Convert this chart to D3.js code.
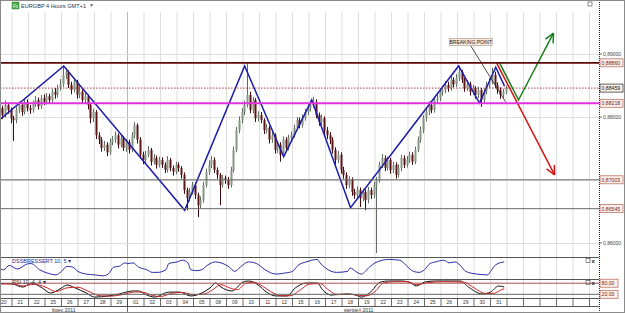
<!DOCTYPE html>
<html>
<head>
<meta charset="utf-8">
<script src="https://cdn.jsdelivr.net/npm/d3@7"></script>
<style>
body { margin: 0; background: #fff; }
svg { display: block; font-family: "Liberation Sans", Arial, sans-serif; }
</style>
</head>
<body>
<svg id="chart" width="625" height="313"></svg>
<script>
// --- data (EURGBP 4H, 20 Jul - 31 Aug 2011) ---
const dayLabels = ["20","21","22","25","26","27","28","29","01","02","03","04","05","08","09","10","11","12","15","16","17","18","19","22","23","24","25","26","29","30","31"]
const months = [["lipiec 2011", 0, 8], ["sierpień 2011", 8, 36]]

const firstOpen = .8815
const closes = [
  .8808,.8814,.8803,.8819,.8811,.8798, .8795,.8811,.8819,.8808,.8824,.8814, .8811,.8821,.8827,.8817,.8830,.8824,
  .8833,.8827,.8840,.8835,.8846,.8852, .8867,.8871,.8851,.8843,.8856,.8835, .8840,.8827,.8833,.8819,.8798,.8808,
  .8771,.8764,.8751,.8756,.8744,.8760, .8764,.8771,.8756,.8767,.8751,.8760, .8748,.8771,.8787,.8764,.8740,.8732,
  .8740,.8748,.8729,.8735,.8724,.8732, .8724,.8716,.8732,.8719,.8713,.8724, .8719,.8708,.8684,.8671,.8681,.8692,
  .8676,.8660,.8668,.8692,.8713,.8724, .8732,.8716,.8708,.8692,.8703,.8700, .8692,.8716,.8748,.8779,.8795,.8808,
  .8819,.8835,.8811,.8827,.8798,.8803, .8795,.8779,.8783,.8764,.8771,.8748, .8756,.8740,.8764,.8751,.8767,.8771,
  .8783,.8795,.8787,.8798,.8808,.8814, .8819,.8824,.8803,.8792,.8798,.8779, .8771,.8764,.8748,.8732,.8740,.8716,
  .8708,.8692,.8700,.8681,.8676,.8684, .8671,.8681,.8668,.8684,.8676,.8692, .8700,.8724,.8735,.8719,.8732,.8716,
  .8724,.8708,.8719,.8735,.8724,.8732, .8740,.8729,.8748,.8764,.8779,.8798, .8808,.8819,.8811,.8827,.8830,.8840,
  .8843,.8851,.8846,.8859,.8852,.8862, .8871,.8859,.8846,.8852,.8840,.8846, .8835,.8843,.8827,.8840,.8851,.8856,
  .8867,.8851,.8843,.8835,.8840,.8846]
const highs = [
  .8822,.8820,.8818,.8826,.8823,.8815, .8802,.8816,.8825,.8822,.8829,.8828, .8819,.8826,.8833,.8831,.8835,.8836,
  .8838,.8837,.8845,.8846,.8851,.8860, .8881,.8878,.8874,.8856,.8862,.8859, .8851,.8844,.8838,.8836,.8822,.8813,
  .8811,.8776,.8768,.8762,.8760,.8766, .8770,.8777,.8774,.8773,.8770,.8765, .8764,.8776,.8792,.8790,.8768,.8745,
  .8746,.8754,.8751,.8741,.8739,.8737, .8736,.8728,.8738,.8735,.8723,.8729, .8728,.8722,.8712,.8688,.8687,.8697,
  .8696,.8680,.8674,.8697,.8718,.8731, .8738,.8736,.8720,.8711,.8708,.8707, .8705,.8721,.8753,.8784,.8801,.8814,
  .8826,.8887,.8840,.8832,.8830,.8809, .8808,.8798,.8789,.8786,.8777,.8774, .8761,.8760,.8769,.8768,.8772,.8777,
  .8788,.8800,.8799,.8804,.8813,.8820, .8826,.8832,.8828,.8807,.8804,.8801, .8784,.8776,.8768,.8752,.8746,.8744,
  .8721,.8712,.8706,.8704,.8686,.8690, .8688,.8686,.8685,.8689,.8688,.8697, .8705,.8729,.8741,.8739,.8737,.8735,
  .8729,.8728,.8725,.8740,.8739,.8738, .8745,.8744,.8753,.8769,.8785,.8803, .8814,.8825,.8824,.8832,.8837,.8846,
  .8849,.8857,.8856,.8865,.8863,.8868, .8881,.8875,.8862,.8858,.8856,.8851, .8849,.8848,.8846,.8845,.8856,.8862,
  .8878,.8872,.8855,.8847,.8845,.8850]
const lows = [
  .8801,.8803,.8797,.8799,.8805,.8790, .8762,.8790,.8806,.8802,.8804,.8809, .8805,.8807,.8816,.8812,.8813,.8819,
  .8820,.8822,.8823,.8829,.8831,.8842, .8848,.8860,.8846,.8836,.8839,.8829, .8830,.8821,.8822,.8812,.8790,.8792,
  .8765,.8757,.8745,.8746,.8738,.8740, .8755,.8759,.8750,.8752,.8746,.8745, .8742,.8744,.8766,.8758,.8734,.8725,
  .8727,.8736,.8723,.8725,.8718,.8720, .8719,.8711,.8712,.8714,.8707,.8709, .8713,.8702,.8678,.8652,.8666,.8677,
  .8670,.8641,.8655,.8664,.8688,.8708, .8719,.8711,.8702,.8660,.8688,.8694, .8686,.8688,.8712,.8744,.8774,.8790,
  .8803,.8815,.8806,.8806,.8792,.8793, .8790,.8773,.8774,.8758,.8759,.8742, .8743,.8729,.8736,.8745,.8747,.8762,
  .8767,.8779,.8782,.8783,.8794,.8803, .8809,.8815,.8798,.8786,.8787,.8773, .8765,.8757,.8742,.8725,.8727,.8710,
  .8702,.8686,.8687,.8675,.8670,.8671, .8657,.8666,.8652,.8663,.8670,.8671, .8584,.8696,.8719,.8714,.8715,.8710,
  .8711,.8702,.8704,.8714,.8719,.8720, .8727,.8724,.8725,.8744,.8759,.8774, .8793,.8803,.8806,.8807,.8822,.8825,
  .8834,.8838,.8840,.8842,.8847,.8848, .8857,.8854,.8840,.8841,.8834,.8835, .8829,.8830,.8816,.8822,.8836,.8846,
  .8852,.8846,.8837,.8829,.8830,.8836]

// horizontal levels drawn on the chart
const levels = [
  { v: .88860, label: "0,88860", kind: "resist" },
  { v: .88459, label: "0,88459", kind: "last" },
  { v: .88218, label: "0,88218", kind: "pivot" },
  { v: .87003, label: "0,87003", kind: "grey" },
  { v: .86545, label: "0,86545", kind: "grey" }]
const priceTicks = [.89, .88, .87, .86]

// zigzag and projections: [bar, price]
const zigzag = [[0,.8790],[24.8,.8881],[68.8,.8652],[90.6,.8881],[104.8,.8737],[115,.8827],[129.1,.8656],[168.4,.8881],[176,.8822],[181.9,.8879],[185.1,.8849]]
const greenPath = [[183.3,.8886],[190.2,.8827],[202.9,.8933]]
const redPath = [[182.2,.8886],[203.3,.8708]]
const breakLeader = [[172.8,.8913],[185.5,.8824]]

// oscillators: [bar, value]
const dss = [[1,50],[3,41],[5,64],[7,50],[8,45],[12,73],[13,73],[16,41],[19,23],[22,14],[24,32],[26,59],[28,55],[30,32],[33,18],[36,14],[39,9],[41,18],[43,55],[45,59],[47,77],[48,73],[50,77],[52,55],[55,41],[57,27],[59,27],[62,41],[63,73],[66,82],[68,91],[70,77],[71,41],[73,36],[75,41],[77,64],[78,73],[80,82],[82,77],[85,55],[87,32],[89,55],[92,82],[95,73],[98,41],[102,18],[105,23],[108,32],[110,64],[113,82],[117,95],[118,77],[120,50],[124,27],[128,32],[129,50],[131,32],[133,18],[136,55],[138,77],[143,95],[147,91],[148,82],[151,41],[152,32],[154,27],[156,41],[158,73],[160,82],[163,91],[165,77],[167,82],[169,64],[171,32],[175,18],[179,14],[180,32],[182,68],[185,82]]
const stochK = [[1,79],[6,76],[10,59],[13,81],[17,54],[20,27],[24,54],[26,70],[29,54],[33,27],[36,5],[41,11],[45,22],[50,38],[52,38],[55,16],[58,5],[63,32],[67,32],[71,11],[75,27],[78,54],[80,81],[82,59],[86,38],[90,86],[92,92],[96,65],[98,38],[102,11],[106,11],[109,54],[113,81],[117,81],[119,43],[122,16],[128,22],[131,16],[133,5],[136,27],[140,86],[143,92],[148,92],[151,81],[153,65],[156,86],[160,92],[169,92],[172,59],[177,22],[180,32],[183,65],[185,59]]
const stochD = [[1,75],[6,77],[10,65],[14,74],[18,60],[22,35],[26,55],[30,58],[34,35],[38,12],[42,10],[46,18],[51,33],[54,30],[57,14],[60,8],[64,25],[68,30],[72,18],[76,22],[79,45],[82,72],[85,55],[88,45],[91,80],[94,85],[97,65],[100,35],[104,12],[107,12],[111,45],[114,75],[118,78],[121,45],[124,20],[129,20],[132,15],[135,12],[138,35],[141,80],[145,88],[150,88],[153,72],[157,82],[163,88],[170,86],[174,55],[178,25],[181,25],[184,45],[185,50]]
const stochLevels = [80, 20]

// --- layout ---
const W = 625, H = 313, axisX = 599
const mainB = 257, o1T = 257, o1B = 279, o2T = 279, o2B = 298, dateB = 306
const nSlots = 36

const svg = d3.select("#chart")

const x = d3.scaleLinear().domain([0, 6 * nSlots]).range([-4.5, -4.5 + 16.5 * nSlots])
const bw = x(1) - x(0)
const y = d3.scaleLinear().domain([.86, .89]).range([243, 54])
const y1 = d3.scaleLinear().domain([0, 100]).range([o1B - 1.5, o1T + 1.5])
const y2 = d3.scaleLinear().domain([0, 100]).range([o2B, o2T + 0.5])

const fmt = v => d3.format(".5f")(v).replace(".", ",")

svg.append("rect").attr("width", W).attr("height", H).attr("fill", "#fff")

const defs = svg.append("defs")
defs.append("clipPath").attr("id", "clipMain").append("rect")
    .attr("x", 0).attr("y", 0).attr("width", axisX).attr("height", mainB)
defs.append("clipPath").attr("id", "clipOsc").append("rect")
    .attr("x", 0).attr("y", o1T).attr("width", axisX).attr("height", o2B - o1T)

// vertical day grid
const grid = svg.append("g")
d3.range(1, nSlots + 1).forEach(k => {
  grid.append("line")
    .attr("x1", x(6 * k)).attr("x2", x(6 * k))
    .attr("y1", 12).attr("y2", o2B)
    .attr("stroke", k === 8 ? "#b8b8b8" : "#dedede").attr("stroke-width", 1)
})
priceTicks.forEach(t => {
  grid.append("line").attr("x1", 0).attr("x2", axisX)
    .attr("y1", Math.round(y(t)) + .5).attr("y2", Math.round(y(t)) + .5)
    .attr("stroke", "#dedede")
})

// candles
const main = svg.append("g").attr("clip-path", "url(#clipMain)")
const bars = closes.map((c, i) => ({ i, o: i ? closes[i - 1] : firstOpen, h: highs[i], l: lows[i], c }))
main.selectAll(".wick").data(bars).enter().append("line")
  .attr("x1", d => Math.round(x(d.i) + bw / 2) + .5)
  .attr("x2", d => Math.round(x(d.i) + bw / 2) + .5)
  .attr("y1", d => y(d.h)).attr("y2", d => y(d.l))
  .attr("stroke", d => d.c >= d.o ? "#5f6d60" : "#3e0c0c").attr("stroke-width", 1)
main.selectAll(".body").data(bars).enter().append("rect")
  .attr("x", d => Math.round(x(d.i) + bw / 2) - .5)
  .attr("width", 2)
  .attr("y", d => y(Math.max(d.o, d.c)))
  .attr("height", d => Math.max(1, Math.abs(y(d.o) - y(d.c))))
  .attr("fill", d => d.c >= d.o ? "#859586" : "#5e1515")

// horizontal levels
const lvStyle = {
  resist: { stroke: "#5a0a0a", w: 1.8, dash: null, box: "#b06050", txt: "#7a1a10" },
  last: { stroke: "#b04040", w: 1, dash: "1.5,1.5", box: "#222", txt: "#111" },
  pivot: { stroke: "#e030e0", w: 1.8, dash: null, box: "#b06050", txt: "#7a1a10" },
  grey: { stroke: "#6a6a6a", w: 1, dash: null, box: "#b06050", txt: "#7a1a10" }
}
levels.forEach(l => {
  const s = lvStyle[l.kind]
  svg.append("line").attr("x1", 0).attr("x2", axisX)
    .attr("y1", y(l.v)).attr("y2", y(l.v))
    .attr("stroke", s.stroke).attr("stroke-width", s.w)
    .attr("stroke-dasharray", s.dash)
})

// zigzag + projections
const line = d3.line().x(d => x(d[0])).y(d => y(d[1]))
main.append("path").attr("d", line(zigzag)).attr("fill", "none")
  .attr("stroke", "#1c1ca8").attr("stroke-width", 1.5)
main.append("path").attr("d", line(breakLeader)).attr("fill", "none")
  .attr("stroke", "#222").attr("stroke-width", .8)

function arrow(pts, color) {
  main.append("path").attr("d", line(pts)).attr("fill", "none")
    .attr("stroke", color).attr("stroke-width", 1.5)
  const a = pts[pts.length - 2], b = pts[pts.length - 1]
  const bx = x(b[0]), by = y(b[1])
  const ang = Math.atan2(by - y(a[1]), bx - x(a[0]))
  const len = 10
  ;[-0.45, 0.45].forEach(da => {
    main.append("line").attr("x1", bx).attr("y1", by)
      .attr("x2", bx - len * Math.cos(ang + da)).attr("y2", by - len * Math.sin(ang + da))
      .attr("stroke", color).attr("stroke-width", 1.5)
  })
}
arrow(redPath, "#d41414")
arrow(greenPath, "#17801a")

// breaking point label
const bpx = x(breakLeader[0][0]), bpy = y(breakLeader[0][1])
svg.append("rect").attr("x", bpx - 21.5).attr("y", bpy - 7.5).attr("width", 43).attr("height", 7)
  .attr("fill", "#fbe6d4").attr("stroke", "#999").attr("stroke-width", .6)
svg.append("text").attr("x", bpx).attr("y", bpy - 2).attr("text-anchor", "middle")
  .attr("font-size", 5).attr("fill", "#222").text("BREAKING POINT")

// title strip
svg.append("rect").attr("x", 12).attr("y", 2).attr("width", 7).attr("height", 7)
  .attr("fill", "#48a848").attr("stroke", "#2a7a2a").attr("stroke-width", .5)
svg.append("text").attr("x", 13).attr("y", 7.7).attr("font-size", 4.5).attr("fill", "#fff").text("Fx")
const title = svg.append("text").attr("x", 21).attr("y", 8).attr("font-size", 5.6).attr("fill", "#333")
  .text("EURGBP 4 Hours GMT+1")
const tEnd = 21 + title.node().getComputedTextLength()
svg.append("path")
  .attr("d", `M${tEnd + 4},4.5 L${tEnd + 7},4.5 L${tEnd + 5.5},6.5 Z`)
  .attr("fill", "#333")
svg.append("rect").attr("x", 588).attr("y", 2).attr("width", 4).attr("height", 4)
  .attr("fill", "none").attr("stroke", "#444").attr("stroke-width", .6)

// oscillator panels
const osc = svg.append("g").attr("clip-path", "url(#clipOsc)")
const oline = sc => d3.line().x(d => x(d[0])).y(d => sc(d[1])).curve(d3.curveMonotoneX)
osc.append("path").attr("d", oline(y1)(dss)).attr("fill", "none")
  .attr("stroke", "#2b2ba6").attr("stroke-width", 1)
stochLevels.forEach((v, i) => {
  svg.append("line").attr("x1", 0).attr("x2", axisX).attr("y1", y2(v)).attr("y2", y2(v))
    .attr("stroke", i === 0 ? "#a85050" : "#666").attr("stroke-width", 1)
})
osc.append("path").attr("d", oline(y2)(stochK)).attr("fill", "none")
  .attr("stroke", "#111").attr("stroke-width", 1)
osc.append("path").attr("d", oline(y2)(stochD)).attr("fill", "none")
  .attr("stroke", "#cc2222").attr("stroke-width", 1)

svg.append("text").attr("x", 12).attr("y", 263).attr("font-size", 5.5).attr("fill", "#2b2b90")
  .text("DSSBRESSERT 10, 5  ▾")
svg.append("text").attr("x", 12).attr("y", 284).attr("font-size", 5.5).attr("fill", "#333")
  .text("RSI 10, 4, 4  ▾")
;[o1T + 4, o2T + 4].forEach(yy => {
  svg.append("rect").attr("x", 586).attr("y", yy - 2.5).attr("width", 4).attr("height", 4)
    .attr("fill", "none").attr("stroke", "#444").attr("stroke-width", .6)
  svg.append("text").attr("x", 591.5).attr("y", yy + 1.8).attr("font-size", 6)
    .attr("font-weight", "bold").attr("fill", "#222").text("x")
})

// panel separators
;[o1T, o2T, o2B, dateB].forEach(yy => {
  svg.append("line").attr("x1", 0).attr("x2", axisX).attr("y1", yy + .5).attr("y2", yy + .5)
    .attr("stroke", "#555").attr("stroke-width", 1)
})

// date row
const dates = svg.append("g")
d3.range(0, nSlots + 1).forEach(k => {
  dates.append("line").attr("x1", x(6 * k)).attr("x2", x(6 * k))
    .attr("y1", o2B).attr("y2", dateB).attr("stroke", "#444").attr("stroke-width", .8)
})
dates.selectAll("text").data(dayLabels).enter().append("text")
  .attr("x", (d, i) => x(6 * i + 3)).attr("y", o2B + 6)
  .attr("text-anchor", "middle").attr("font-size", 5).attr("fill", "#333").text(d => d)
months.forEach(m => {
  const a = Math.max(0, x(6 * m[1])), b = x(6 * m[2])
  svg.append("text").attr("x", (a + b) / 2).attr("y", 312).attr("text-anchor", "middle")
    .attr("font-size", 5).attr("fill", "#333").text(m[0])
  if (m[1] > 0) svg.append("line").attr("x1", a).attr("x2", a).attr("y1", o2B).attr("y2", H)
    .attr("stroke", "#444").attr("stroke-width", .8)
})

// price axis
svg.append("line").attr("x1", axisX + .5).attr("x2", axisX + .5).attr("y1", 0).attr("y2", H)
  .attr("stroke", "#222").attr("stroke-dasharray", "1,1")
priceTicks.forEach(t => {
  svg.append("line").attr("x1", axisX).attr("x2", axisX + 3).attr("y1", y(t)).attr("y2", y(t))
    .attr("stroke", "#333").attr("stroke-width", .7)
  svg.append("text").attr("x", axisX + 4).attr("y", y(t) + 2).attr("font-size", 5)
    .attr("fill", "#444").text(fmt(t))
})
function tag(yy, label, box, txt, w) {
  svg.append("rect").attr("x", axisX + 1).attr("y", yy - 4).attr("width", w).attr("height", 8)
    .attr("fill", "#fdf1ea").attr("stroke", box).attr("stroke-width", .7)
  svg.append("text").attr("x", axisX + 2.5).attr("y", yy + 2).attr("font-size", 5.2)
    .attr("fill", txt).text(label)
}
levels.forEach(l => { const s = lvStyle[l.kind]; tag(y(l.v), l.label, s.box, s.txt, 23) })
stochLevels.forEach(v => tag(y2(v), d3.format(".2f")(v).replace(".", ","), "#b06050", "#7a1a10", 18))

// frame
svg.append("rect").attr("x", .5).attr("y", .5).attr("width", W - 1).attr("height", H - 1)
  .attr("fill", "none").attr("stroke", "#8a8a8a")
</script>
</body>
</html>
